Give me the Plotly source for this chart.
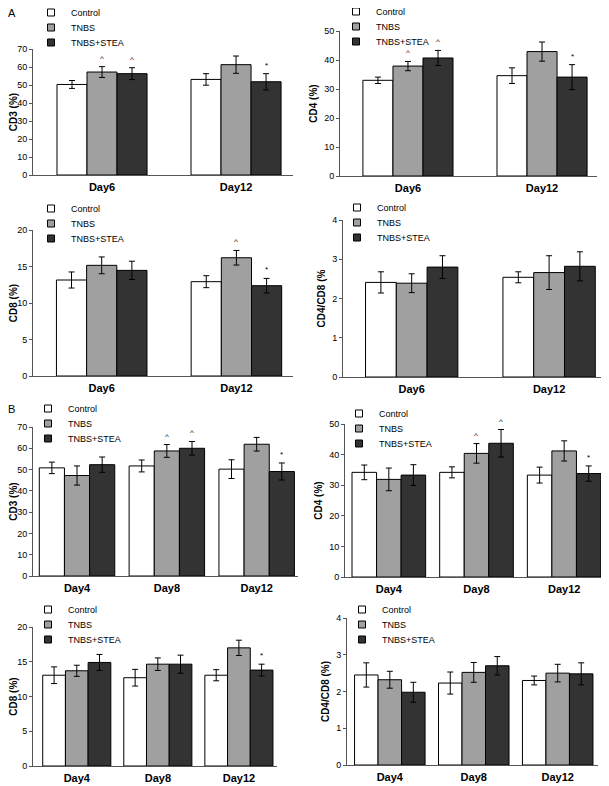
import plotly.graph_objects as go

# The page adds an 8px body margin, so the figure is drawn 8px in from the window edge.
OFF = 8
W, H = 609 - OFF, 786 - OFF

groups = ["Control", "TNBS", "TNBS+STEA"]
bar_colors = ["#ffffff", "#a0a0a0", "#333333"]

days_a = ["Day6", "Day12"]
days_b = ["Day4", "Day8", "Day12"]

# ---- Panel A (rows: Control, TNBS, TNBS+STEA; columns: days) ----
a_cd3_mean = [[50.3, 53.1], [57.2, 61.3], [56.3, 51.8]]
a_cd3_err = [[2.2, 3.2], [3.0, 4.8], [3.3, 4.5]]
a_cd3_marks = [["", ""], ["^", ""], ["^", "*"]]

a_cd4_mean = [[33.0, 34.6], [37.9, 42.9], [40.7, 34.1]]
a_cd4_err = [[1.1, 2.7], [1.6, 3.3], [2.6, 4.3]]
a_cd4_marks = [["", ""], ["^", ""], ["^", "*"]]

a_cd8_mean = [[13.15, 12.92], [15.16, 16.2], [14.47, 12.37]]
a_cd8_err = [[1.1, 0.82], [1.15, 1.0], [1.25, 1.0]]
a_cd8_marks = [["", ""], ["", "^"], ["", "*"]]

a_ratio_mean = [[2.41, 2.54], [2.39, 2.66], [2.80, 2.82]]
a_ratio_err = [[0.27, 0.14], [0.24, 0.43], [0.29, 0.37]]
a_ratio_marks = [["", ""], ["", ""], ["", ""]]

# ---- Panel B ----
b_cd3_mean = [[50.8, 51.7, 50.2], [47.2, 58.75, 61.9], [52.3, 60.0, 49.1]]
b_cd3_err = [[2.7, 2.8, 4.4], [4.5, 3.0, 3.2], [3.6, 3.2, 4.0]]
b_cd3_marks = [["", "", ""], ["", "^", ""], ["", "^", "*"]]

b_cd4_mean = [[34.2, 34.2, 33.3], [31.9, 40.4, 41.2], [33.3, 43.7, 33.8]]
b_cd4_err = [[2.4, 1.8, 2.6], [3.7, 3.2, 3.3], [3.4, 4.5, 2.5]]
b_cd4_marks = [["", "", ""], ["", "^", ""], ["", "^", "*"]]

b_cd8_mean = [[13.06, 12.7, 13.06], [13.7, 14.65, 17.0], [14.9, 14.65, 13.8]]
b_cd8_err = [[1.2, 1.2, 0.8], [0.8, 0.9, 1.1], [1.15, 1.3, 0.85]]
b_cd8_marks = [["", "", ""], ["", "", ""], ["", "", "*"]]

b_ratio_mean = [[2.45, 2.23, 2.30], [2.32, 2.52, 2.50], [1.98, 2.70, 2.48]]
b_ratio_err = [[0.33, 0.30, 0.12], [0.23, 0.27, 0.24], [0.27, 0.25, 0.30]]
b_ratio_marks = [["", "", ""], ["", "", ""], ["", "", ""]]

# panel layout specs (window pixels): box (left, right, top, bottom), x range, y max, dtick,
# legend = (symbol centre x, first key centre y)
panels = [
    dict(days=days_a, mean=a_cd3_mean, err=a_cd3_err, marks=a_cd3_marks, title="CD3 (%)",
         box=(33, 293, 49, 175), xr=(-0.515, 1.425), ymax=70, dtick=10, bw=0.224, leg=(56, 13)),
    dict(days=days_a, mean=a_cd4_mean, err=a_cd4_err, marks=a_cd4_marks, title="CD4 (%)",
         box=(340, 597, 31, 176), xr=(-0.507, 1.41), ymax=50, dtick=10, bw=0.224, leg=(361, 12)),
    dict(days=days_a, mean=a_cd8_mean, err=a_cd8_err, marks=a_cd8_marks, title="CD8 (%)",
         box=(33, 293, 230, 376), xr=(-0.51, 1.42), ymax=20, dtick=5, bw=0.224, leg=(56, 209)),
    dict(days=days_a, mean=a_ratio_mean, err=a_ratio_err, marks=a_ratio_marks, title="CD4/CD8 (%",
         box=(343, 602, 220, 377), xr=(-0.5, 1.385), ymax=4, dtick=1, bw=0.224, leg=(362, 208)),
    dict(days=days_b, mean=b_cd3_mean, err=b_cd3_err, marks=b_cd3_marks, title="CD3 (%)",
         box=(33, 298, 427, 576), xr=(-0.49, 2.46), ymax=70, dtick=10, bw=0.28, leg=(53, 409)),
    dict(days=days_b, mean=b_cd4_mean, err=b_cd4_err, marks=b_cd4_marks, title="CD4 (%)",
         box=(345, 608, 424, 577), xr=(-0.5, 2.5), ymax=50, dtick=10, bw=0.28, leg=(364, 414)),
    dict(days=days_b, mean=b_cd8_mean, err=b_cd8_err, marks=b_cd8_marks, title="CD8 (%)",
         box=(33, 277, 627, 766), xr=(-0.54, 2.47), ymax=20, dtick=5, bw=0.28, leg=(53, 610)),
    dict(days=days_b, mean=b_ratio_mean, err=b_ratio_err, marks=b_ratio_marks, title="CD4/CD8 (%)",
         box=(347, 598, 618, 765), xr=(-0.51, 2.48), ymax=4, dtick=1, bw=0.28, leg=(367, 610)),
]
KEY_STEP = 15  # vertical distance between legend keys (px)


def px_x(X):
    return (X - OFF) / W


def px_y(Y):
    return 1 - (Y - OFF) / H


FONT = "Liberation Sans, Arial, sans-serif"
AXCOL = "#555555"

fig = go.Figure()
layout = dict(
    width=W, height=H, margin=dict(l=0, r=0, t=0, b=0, autoexpand=False),
    paper_bgcolor="white", plot_bgcolor="white",
    barmode="overlay", showlegend=True,
    font=dict(family=FONT, size=9, color="black"),
)
annotations = []
leg_count = 0

for p_i, p in enumerate(panels):
    n = p_i + 1
    xa = "x" if n == 1 else f"x{n}"
    ya = "y" if n == 1 else f"y{n}"
    left, right, top, bottom = p["box"]
    bw = p["bw"]
    gw = bw * len(groups)
    lx, ly = p["leg"]
    for g_i, g in enumerate(groups):
        fig.add_trace(go.Bar(
            x=p["days"], y=p["mean"][g_i], name=g,
            xaxis=xa, yaxis=ya, showlegend=False,
            width=bw, offset=-gw / 2 + g_i * bw,
            marker=dict(color=bar_colors[g_i], line=dict(color="black", width=1)),
            error_y=dict(type="data", array=p["err"][g_i], visible=True,
                         color="black", thickness=1, width=3),
            hoverinfo="skip",
        ))
        # legend key (small square, one key per legend box so the spacing matches)
        leg_count += 1
        leg = "legend" if leg_count == 1 else f"legend{leg_count}"
        fig.add_trace(go.Scatter(
            x=[None], y=[None], name=g, mode="markers",
            xaxis=xa, yaxis=ya, legend=leg, showlegend=True,
            marker=dict(symbol="square", size=7, color=bar_colors[g_i],
                        line=dict(color="black", width=1)),
        ))
        key_y = ly + g_i * KEY_STEP
        layout[leg] = dict(
            x=(lx - 25 - OFF) / W, y=1 - (key_y - 15 - OFF) / H,
            xanchor="left", yanchor="top", xref="paper", yref="paper",
            bgcolor="rgba(0,0,0,0)", borderwidth=0,
            font=dict(size=9, family=FONT, color="black"),
            itemwidth=30, itemsizing="trace",
        )
        for d_i, m in enumerate(p["marks"][g_i]):
            if m:
                annotations.append(dict(
                    x=d_i - gw / 2 + (g_i + 0.5) * bw,
                    y=p["mean"][g_i][d_i] + p["err"][g_i][d_i],
                    xref=xa, yref=ya, text=m, showarrow=False,
                    yanchor="bottom", yshift=2,
                    font=dict(size=8, color="black"),
                ))
    xkey = "xaxis" if n == 1 else f"xaxis{n}"
    ykey = "yaxis" if n == 1 else f"yaxis{n}"
    layout[xkey] = dict(
        domain=[px_x(left), px_x(right)], anchor=ya, range=list(p["xr"]),
        type="category", showline=True, linecolor=AXCOL, linewidth=1,
        ticks="", showgrid=False, zeroline=False, ticklabelstandoff=2,
        tickfont=dict(size=11, family=FONT, weight="bold"), automargin=False,
    )
    layout[ykey] = dict(
        domain=[px_y(bottom), px_y(top)], anchor=xa, range=[0, p["ymax"]],
        dtick=p["dtick"], showline=True, linecolor=AXCOL, linewidth=1,
        ticks="outside", ticklen=3, tickcolor=AXCOL, showgrid=False, zeroline=False,
        tickfont=dict(size=9, family=FONT),
        title=dict(text=p["title"], font=dict(size=10, family=FONT, weight="bold"), standoff=4),
        automargin=False,
    )

annotations.append(dict(x=-2 / W, y=1 + 3 / H, xref="paper", yref="paper", text="A",
                        showarrow=False, xanchor="left", yanchor="top",
                        font=dict(size=11, family=FONT, color="black")))
annotations.append(dict(x=-2 / W, y=px_y(401), xref="paper", yref="paper", text="B",
                        showarrow=False, xanchor="left", yanchor="top",
                        font=dict(size=11, family=FONT, color="black")))
layout["annotations"] = annotations

fig.update_layout(**layout)
fig.write_html("out.html")
